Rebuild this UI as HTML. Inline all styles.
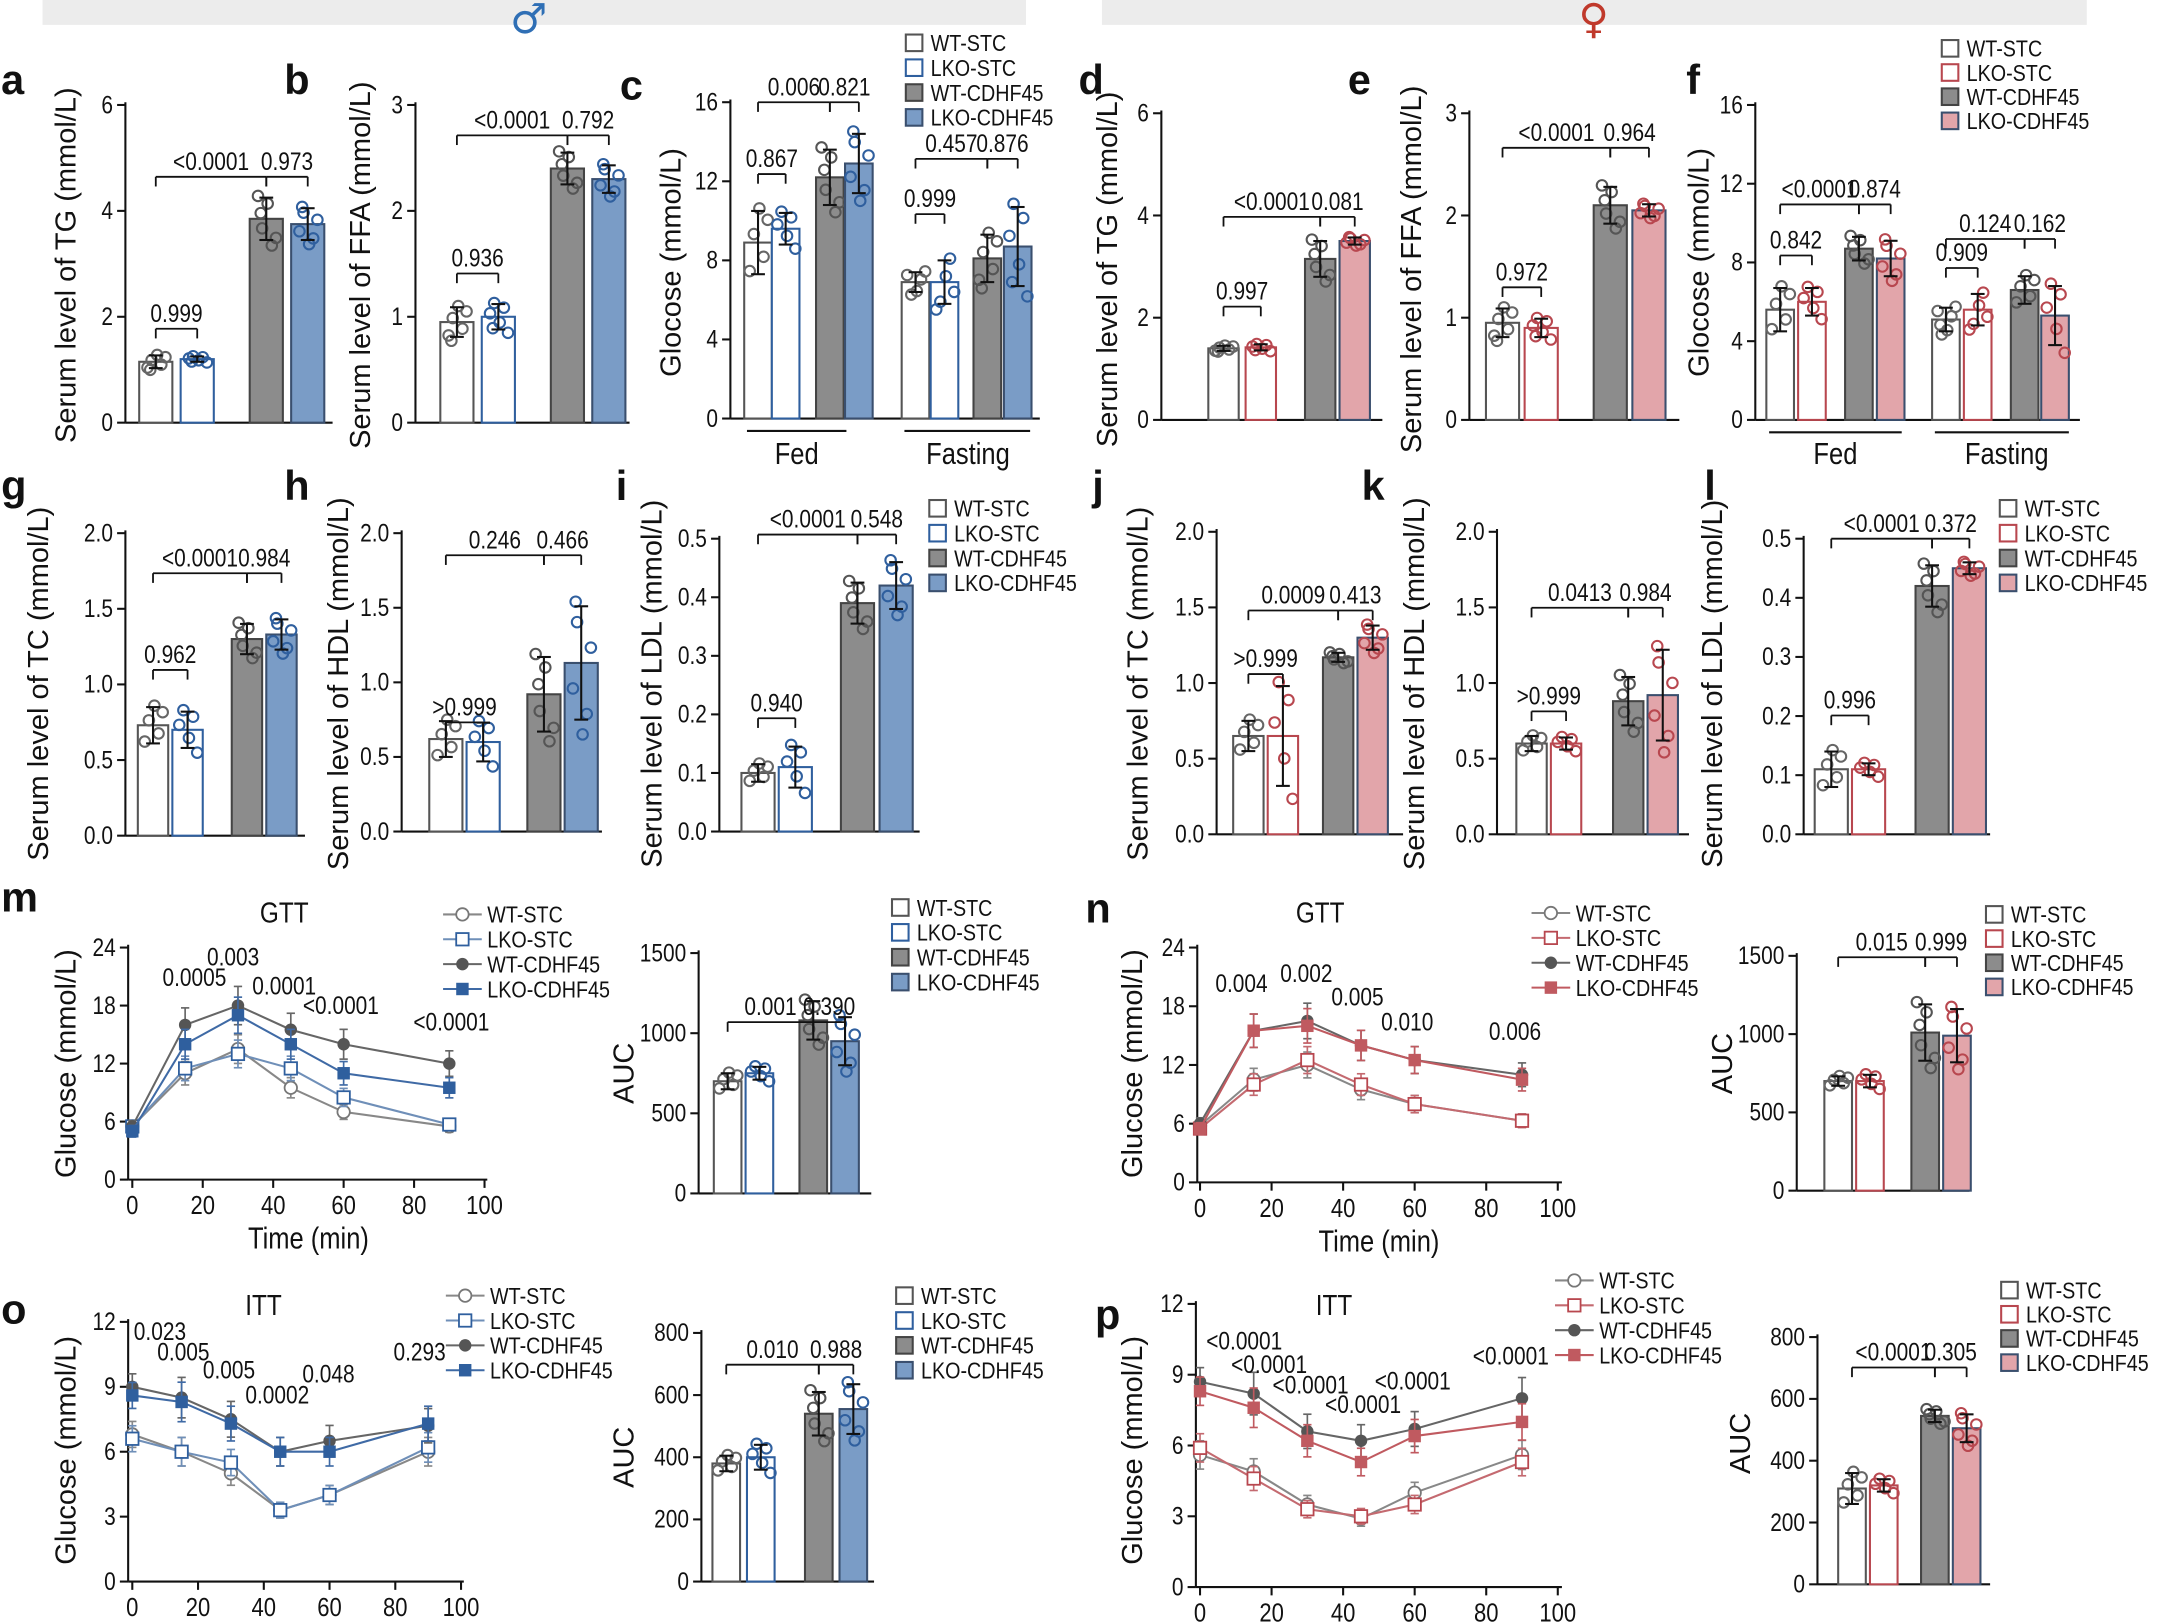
<!DOCTYPE html>
<html><head><meta charset="utf-8">
<style>
html,body{margin:0;padding:0;background:#fff;}
svg{display:block;}
text{font-family:"Liberation Sans",Arial,sans-serif;fill:#111;}
</style></head>
<body>
<svg id="s" xmlns="http://www.w3.org/2000/svg" width="2168" height="1623" viewBox="0 0 1568 1175">
<rect x="30" y="0" width="712" height="18" fill="#ececec"/>
<rect x="797" y="0" width="713" height="18" fill="#ececec"/>
<text x="382" y="24" font-size="30" text-anchor="middle" style="fill:#2f6fb5;font-family:'DejaVu Sans',sans-serif">♂</text>
<text x="1153" y="24" font-size="30" text-anchor="middle" style="fill:#c0392b;font-family:'DejaVu Sans',sans-serif">♀</text>
<g font-weight="bold" font-size="30">
<text x="0" y="68">a</text><text x="205" y="68">b</text><text x="448" y="72">c</text>
<text x="780" y="68">d</text><text x="975" y="68">e</text><text x="1220" y="68">f</text>
<text x="0" y="362">g</text><text x="205" y="362">h</text><text x="445" y="362">i</text>
<text x="790" y="362">j</text><text x="985" y="362">k</text><text x="1233" y="362">l</text>
<text x="0" y="660">m</text><text x="785" y="668">n</text>
<text x="0" y="958">o</text><text x="792" y="962">p</text>
</g>
<g id="c"></g>
</svg>
<script>
var out=[];
function T(x,y,s,fs,anc,rot,col){
 if(rot){out.push('<text x="'+x+'" y="'+y+'" font-size="'+(fs+1)+'" text-anchor="middle" transform="rotate(-90 '+x+' '+y+')">'+s+'</text>');return;}
 out.push('<text x="0" y="0" font-size="'+((fs||15)+2)+'" text-anchor="'+(anc||'middle')+'" transform="translate('+x+' '+y+') scale(0.84 1)"'+(col?' style="fill:'+col+'"':'')+'>'+s+'</text>');}
function L(x1,y1,x2,y2,c,w){out.push('<line x1="'+x1+'" y1="'+y1+'" x2="'+x2+'" y2="'+y2+'" stroke="'+(c||'#111')+'" stroke-width="'+(w||1.5)+'"/>');}
var M={s:'#2f5f9e',f:'#7a9cc6'},F={s:'#b8474f',f:'#e2a5aa'};
function sty(t,C){return [['#fff','#555'],['#fff',C.s],['#8c8c8c','#444'],[C.f,'#3a4f6e']][t];}
function dotc(t,C){return [ '#666',C.s,'#555',C.s][t];}
var dx=[-6,-3,1,4,7,-4],dv=[-1,0.3,1.2,-0.5,0.8,-1.4];
function axisY(p){L(p.ax,p.y0,p.ax,p.yt-2);L(p.ax,p.y0,p.ax1,p.y0);
 p.ticks.forEach(function(v){var y=p.y0-v/p.ymax*(p.y0-p.yt);L(p.ax-6,y,p.ax,y);T(p.ax-9,y+6,p.fmt?p.fmt(v):v,16,'end');});
 if(p.ylab)T(p.lx,p.ly,p.ylab,20,'middle',1);}
function barPanel(p){var C=p.C,Y=function(v){return p.y0-v/p.ymax*(p.y0-p.yt)};axisY(p);var w=p.w||22;
 p.bars.forEach(function(b,i){var t=b[3],st=sty(t,C),y=Y(b[1]);
  out.push('<rect x="'+(b[0]-w/2)+'" y="'+y+'" width="'+w+'" height="'+(p.y0-y)+'" fill="'+st[0]+'" stroke="'+st[1]+'" stroke-width="1.5"/>');
  for(var k=0;k<(b[4]||6);k++){var v=b[1]+dv[(k+i)%6]*b[2]*0.9;out.push('<circle cx="'+(b[0]+dx[k])+'" cy="'+Y(v)+'" r="3.8" fill="none" stroke="'+dotc(t,C)+'" stroke-width="1.5"/>');}
  var e1=Y(b[1]+b[2]),e2=Y(b[1]-b[2]);L(b[0],e1,b[0],e2);L(b[0]-5,e1,b[0]+5,e1);L(b[0]-5,e2,b[0]+5,e2);});
 p.br.forEach(function(r){L(r[0],r[2],r[1],r[2],'#111',1.3);L(r[0],r[2],r[0],r[2]+7,'#111',1.3);L(r[1],r[2],r[1],r[2]+7,'#111',1.3);T((r[0]+r[1])/2,r[2]-5,r[3],16);});}
function legBar(x,y,C,dy){var n=['WT-STC','LKO-STC','WT-CDHF45','LKO-CDHF45'];dy=dy||18;
 n.forEach(function(s,i){var st=sty(i,C);out.push('<rect x="'+x+'" y="'+(y+i*dy-6)+'" width="12" height="12" fill="'+st[0]+'" stroke="'+st[1]+'" stroke-width="1.5"/>');T(x+18,y+i*dy+6,s,15,'start');});}
function marker(t,x,y,C){var c=[ '#777',C.s,'#555',C.s][t];
 if(t==0)out.push('<circle cx="'+x+'" cy="'+y+'" r="4.5" fill="#fff" stroke="'+c+'" stroke-width="1.3"/>');
 if(t==1)out.push('<rect x="'+(x-4.5)+'" y="'+(y-4.5)+'" width="9" height="9" fill="#fff" stroke="'+c+'" stroke-width="1.3"/>');
 if(t==2)out.push('<circle cx="'+x+'" cy="'+y+'" r="4.5" fill="'+c+'"/>');
 if(t==3)out.push('<rect x="'+(x-4.5)+'" y="'+(y-4.5)+'" width="9" height="9" fill="'+(C==F?'#c05a60':'#2f5f9e')+'"/>');}
function lineCol(t,C){return ['#888',C==F?'#c46a70':'#6f8fb8','#666',C==F?'#c05a60':'#3f6aa5'][t];}
function linePanel(p){var C=p.C,Y=function(v){return p.y0-v/p.ymax*(p.y0-p.yt)},X=function(t){return p.x0+t/100*(p.x1-p.x0)};
 axisY(p);[0,20,40,60,80,100].forEach(function(t){L(X(t),p.y0,X(t),p.y0+6);T(X(t),p.y0+25,t,17);});
 T((p.x0+p.x1)/2,p.y0+50,'Time (min)',20);T(p.tx,p.ty,p.title,19);
 var tm=[0,15,30,45,60,90];
 p.s.forEach(function(vs,t){var pts=vs.map(function(v,i){return X(tm[i])+','+Y(v)}).join(' ');
  out.push('<polyline points="'+pts+'" fill="none" stroke="'+lineCol(t,C)+'" stroke-width="1.5"/>');
  vs.forEach(function(v,i){var e=(i==0?0.6:v*0.11);L(X(tm[i]),Y(v-e),X(tm[i]),Y(v+e),lineCol(t,C),1.2);L(X(tm[i])-3,Y(v+e),X(tm[i])+3,Y(v+e),lineCol(t,C),1.2);L(X(tm[i])-3,Y(v-e),X(tm[i])+3,Y(v-e),lineCol(t,C),1.2);});
  vs.forEach(function(v,i){marker(t,X(tm[i]),Y(v),C);});});
 p.lab.forEach(function(l){T(l[0],l[1],l[2],16);});
 var n=['WT-STC','LKO-STC','WT-CDHF45','LKO-CDHF45'];
 n.forEach(function(s,i){var y=p.ly0+i*18;L(p.lgx,y,p.lgx+28,y,lineCol(i,C),1.5);marker(i,p.lgx+14,y,C);T(p.lgx+32,y+6,s,15,'start');});}
var f1=function(v){return v.toFixed(1)};
// Row 1 male
barPanel({C:M,ax:90,ax1:240,y0:306,yt:76,ymax:6,ticks:[0,2,4,6],lx:54,ly:192,ylab:'Serum level of TG (mmol/L)',w:24,
 bars:[[112,1.15,0.12,0],[142,1.2,0.05,1],[192,3.85,0.4,2],[222,3.75,0.3,3]],br:[[112,142,238,'0.999'],[112,192,128,'&lt;0.0001'],[192,222,128,'0.973']]});
barPanel({C:M,ax:300,ax1:455,y0:306,yt:76,ymax:3,ticks:[0,1,2,3],lx:267,ly:192,ylab:'Serum level of FFA (mmol/L)',w:24,
 bars:[[330,0.95,0.14,0],[360,1.0,0.12,1],[410,2.4,0.15,2],[440,2.3,0.13,3]],br:[[330,360,198,'0.936'],[330,410,98,'&lt;0.0001'],[410,440,98,'0.792']]});
barPanel({C:M,ax:528,ax1:752,y0:303,yt:74,ymax:16,ticks:[0,4,8,12,16],lx:492,ly:190,ylab:'Glocose (mmol/L)',w:20,
 bars:[[548,8.9,1.6,0,5],[568,9.6,0.8,1,5],[600,12.2,1.4,2],[621,12.9,1.5,3],[662,6.9,0.5,0,5],[683,6.9,1.1,1,5],[714,8.1,1.2,2],[736,8.7,2.0,3]],
 br:[[548,568,126,'0.867'],[548,600,74,'0.006'],[600,621,74,'0.821'],[662,683,155,'0.999'],[662,714,115,'0.457'],[714,736,115,'0.876']]});
L(540,312,612,312);L(654,312,745,312);T(576,336,'Fed',20);T(700,336,'Fasting',20);
legBar(655,31,M);
// Row 1 female
barPanel({C:F,ax:840,ax1:1000,y0:304,yt:82,ymax:6,ticks:[0,2,4,6],lx:808,ly:195,ylab:'Serum level of TG (mmol/L)',w:22,
 bars:[[885,1.4,0.05,0],[912,1.42,0.06,1],[955,3.15,0.35,2],[980,3.5,0.07,3]],br:[[885,912,222,'0.997'],[885,955,157,'&lt;0.0001'],[955,980,157,'0.081']]});
barPanel({C:F,ax:1063,ax1:1215,y0:304,yt:82,ymax:3,ticks:[0,1,2,3],lx:1028,ly:195,ylab:'Serum level of FFA (mmol/L)',w:24,
 bars:[[1087,0.95,0.14,0],[1115,0.9,0.09,1],[1165,2.1,0.18,2],[1193,2.05,0.06,3]],br:[[1087,1115,208,'0.972'],[1087,1165,107,'&lt;0.0001'],[1165,1193,107,'0.964']]});
barPanel({C:F,ax:1270,ax1:1505,y0:304,yt:76,ymax:16,ticks:[0,4,8,12,16],lx:1236,ly:190,ylab:'Glocose (mmol/L)',w:20,
 bars:[[1288,5.6,1.1,0,5],[1311,6.0,0.7,1,5],[1345,8.7,0.6,2],[1368,8.2,0.9,3],[1408,5.1,0.6,0],[1431,5.6,0.8,1,5],[1465,6.6,0.7,2,5],[1487,5.3,1.5,3,5]],
 br:[[1288,1311,185,'0.842'],[1288,1345,148,'&lt;0.0001'],[1345,1368,148,'0.874'],[1408,1431,194,'0.909'],[1408,1465,173,'0.124'],[1465,1487,173,'0.162']]});
L(1280,313,1376,313);L(1400,313,1497,313);T(1328,336,'Fed',20);T(1452,336,'Fasting',20);
legBar(1405,35,F,17.5);
// Row 2
barPanel({C:M,ax:90,ax1:220,y0:605,yt:386,ymax:2,ticks:[0,0.5,1,1.5,2],fmt:f1,lx:34,ly:495,ylab:'Serum level of TC (mmol/L)',w:22,
 bars:[[110,0.73,0.12,0,5],[135,0.7,0.12,1,5],[178,1.3,0.1,2],[203,1.33,0.1,3]],br:[[110,135,485,'0.962'],[110,178,415,'&lt;0.0001'],[178,203,415,'0.984']]});
barPanel({C:M,ax:290,ax1:435,y0:602,yt:386,ymax:2,ticks:[0,0.5,1,1.5,2],fmt:f1,lx:251,ly:495,ylab:'Serum level of  HDL (mmol/L)',w:24,
 bars:[[322,0.62,0.12,0,5],[349,0.6,0.13,1,5],[393,0.92,0.25,2],[420,1.13,0.38,3]],br:[[322,349,523,'&gt;0.999'],[322,393,402,'0.246'],[393,420,402,'0.466']]});
barPanel({C:M,ax:520,ax1:665,y0:602,yt:390,ymax:0.5,ticks:[0,0.1,0.2,0.3,0.4,0.5],fmt:f1,lx:478,ly:495,ylab:'Serum level of  LDL (mmol/L)',w:24,
 bars:[[548,0.1,0.015,0,5],[575,0.11,0.035,1,5],[620,0.39,0.035,2],[648,0.42,0.04,3]],br:[[548,575,520,'0.940'],[548,620,387,'&lt;0.0001'],[620,648,387,'0.548']]});
legBar(672,368,M);
barPanel({C:F,ax:880,ax1:1015,y0:604,yt:385,ymax:2,ticks:[0,0.5,1,1.5,2],fmt:f1,lx:830,ly:495,ylab:'Serum level of TC (mmol/L)',w:22,
 bars:[[903,0.65,0.1,0,5],[928,0.65,0.33,1,5],[968,1.17,0.03,2],[993,1.3,0.08,3]],br:[[903,928,488,'&gt;0.999'],[903,968,442,'0.0009'],[968,993,442,'0.413']]});
barPanel({C:F,ax:1083,ax1:1222,y0:604,yt:385,ymax:2,ticks:[0,0.5,1,1.5,2],fmt:f1,lx:1030,ly:495,ylab:'Serum level of  HDL (mmol/L)',w:22,
 bars:[[1108,0.6,0.05,0,5],[1133,0.6,0.04,1,5],[1178,0.88,0.16,2],[1203,0.92,0.3,3]],br:[[1108,1133,515,'&gt;0.999'],[1108,1178,440,'0.0413'],[1178,1203,440,'0.984']]});
barPanel({C:F,ax:1305,ax1:1440,y0:604,yt:390,ymax:0.5,ticks:[0,0.1,0.2,0.3,0.4,0.5],fmt:f1,lx:1246,ly:495,ylab:'Serum level of  LDL (mmol/L)',w:24,
 bars:[[1325,0.11,0.03,0,5],[1352,0.11,0.01,1,5],[1398,0.42,0.035,2],[1425,0.45,0.01,3]],br:[[1325,1352,518,'0.996'],[1325,1398,390,'&lt;0.0001'],[1398,1425,390,'0.372']]});
legBar(1447,368,F);
// Row 3
linePanel({C:M,ax:92,ax1:352,y0:854,yt:686,ymax:24,ticks:[0,6,12,18,24],lx:54,ly:770,ylab:'Glucose (mmol/L)',x0:95,x1:350,tx:205,ty:668,title:'GTT',
 s:[[5.5,11,13.5,9.5,7,5.5],[5.5,11.5,13,11.5,8.5,5.7],[5.5,16,18,15.5,14,12],[5,14,17,14,11,9.5]],
 lab:[[140,714,'0.0005'],[168,699,'0.003'],[205,720,'0.0001'],[246,734,'&lt;0.0001'],[326,746,'&lt;0.0001']],lgx:320,ly0:662});
barPanel({C:M,ax:505,ax1:630,y0:864,yt:690,ymax:1500,ticks:[0,500,1000,1500],lx:458,ly:777,ylab:'AUC',w:20,
 bars:[[526,700,50,0,5],[549,750,40,1,5],[588,1080,120,2],[611,950,150,3]],br:[[526,588,740,'0.001'],[588,611,740,'0.390']]});
legBar(645,657,M);
linePanel({C:F,ax:866,ax1:1130,y0:856,yt:686,ymax:24,ticks:[0,6,12,18,24],lx:826,ly:770,ylab:'Glucose (mmol/L)',x0:868,x1:1127,tx:955,ty:668,title:'GTT',
 s:[[5.8,10.5,12,9.5,8,6.3],[5.5,10,12.5,10,8,6.3],[6,15.5,16.5,14,12.5,11],[5.5,15.5,16,14,12.5,10.5]],
 lab:[[898,718,'0.004'],[945,711,'0.002'],[982,728,'0.005'],[1018,746,'0.010'],[1096,753,'0.006']],lgx:1108,ly0:661});
barPanel({C:F,ax:1300,ax1:1425,y0:862,yt:692,ymax:1500,ticks:[0,500,1000,1500],lx:1253,ly:770,ylab:'AUC',w:20,
 bars:[[1330,700,30,0,5],[1353,700,40,1,5],[1393,1010,180,2],[1416,990,170,3]],br:[[1330,1393,693,'0.015'],[1393,1416,693,'0.999']]});
legBar(1437,662,F,17.5);
// Row 4
linePanel({C:M,ax:92,ax1:335,y0:1145,yt:957,ymax:12,ticks:[0,3,6,9,12],lx:54,ly:1050,ylab:'Glucose (mmol/L)',x0:95,x1:333,tx:190,ty:952,title:'ITT',
 s:[[6.8,6,5,3.3,4,6],[6.6,6,5.5,3.3,4,6.2],[9,8.5,7.5,6,6.5,7.2],[8.6,8.3,7.3,6,6,7.3]],
 lab:[[115,970,'0.023'],[132,985,'0.005'],[165,998,'0.005'],[200,1016,'0.0002'],[237,1001,'0.048'],[303,985,'0.293']],lgx:322,ly0:938});
barPanel({C:M,ax:507,ax1:632,y0:1145,yt:965,ymax:800,ticks:[0,200,400,600,800],lx:458,ly:1055,ylab:'AUC',w:20,
 bars:[[525,380,25,0,5],[550,400,40,1,5],[592,540,70,2],[617,555,80,3]],br:[[525,592,988,'0.010'],[592,617,988,'0.988']]});
legBar(648,938,M);
linePanel({C:F,ax:865,ax1:1130,y0:1149,yt:944,ymax:12,ticks:[0,3,6,9,12],lx:826,ly:1050,ylab:'Glucose (mmol/L)',x0:868,x1:1127,tx:965,ty:952,title:'ITT',
 s:[[5.6,4.9,3.5,2.9,4,5.6],[5.9,4.6,3.3,3,3.5,5.3],[8.7,8.2,6.6,6.2,6.7,8],[8.3,7.6,6.2,5.3,6.4,7]],
 lab:[[900,977,'&lt;0.0001'],[918,994,'&lt;0.0001'],[948,1009,'&lt;0.0001'],[986,1023,'&lt;0.0001'],[1022,1006,'&lt;0.0001'],[1093,988,'&lt;0.0001']],lgx:1125,ly0:927});
barPanel({C:F,ax:1315,ax1:1440,y0:1147,yt:968,ymax:800,ticks:[0,200,400,600,800],lx:1266,ly:1045,ylab:'AUC',w:20,
 bars:[[1340,310,50,0,5],[1363,320,20,1,5],[1400,545,20,2],[1423,505,45,3]],br:[[1340,1400,990,'&lt;0.0001'],[1400,1423,990,'0.305']]});
legBar(1448,934,F,17.5);
document.getElementById('c').innerHTML=out.join('');
</script>
</body></html>
